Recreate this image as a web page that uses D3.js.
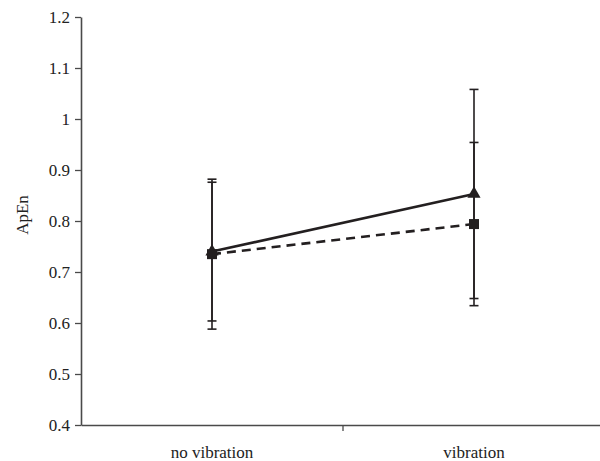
<!DOCTYPE html>
<html><head><meta charset="utf-8">
<script src="https://cdn.jsdelivr.net/npm/d3@7"></script>
<style>body{margin:0;background:#fff}svg{display:block}svg text{font-family:'Liberation Serif','Times New Roman',serif}</style>
</head><body>
<svg id="c" width="600" height="461"></svg>
<script>
const categories = ["no vibration", "vibration"];
const yTicks = [0.4, 0.5, 0.6, 0.7, 0.8, 0.9, 1, 1.1, 1.2];
// series: solid line with triangles
const triMean = [0.740, 0.853];
const triErr  = [0.136, 0.205];
// series: dashed line with squares
const sqMean = [0.735, 0.794];
const sqErr  = [0.147, 0.160];

(function () {
const svg = d3.select("#c");
const mL = 81, mR = 605, mT = 17, mB = 425;
const x = d3.scaleBand().domain(categories).range([mL, mR]);
const y = d3.scaleLinear().domain([0.4, 1.2]).range([mB, mT]);
const ink = "#231f20", axisCol = "#4a4a4a";
const font = "'Liberation Serif', 'Times New Roman', serif";

// y axis
const ya = svg.append("g").attr("transform", `translate(${mL},0)`)
  .call(d3.axisLeft(y).tickValues(yTicks).tickSize(6).tickSizeOuter(0).tickFormat(d => String(+d.toFixed(1))));
ya.attr("font-family", null);
ya.select(".domain").attr("stroke", axisCol).attr("stroke-width", 1.6);
ya.selectAll(".tick line").attr("stroke", axisCol).attr("stroke-width", 1.3);
ya.selectAll(".tick text").style("font-family", font).style("font-size", "17px").attr("fill", "#222").attr("x", -11);

// x axis
const xa = svg.append("g").attr("transform", `translate(0,${mB})`)
  .call(d3.axisBottom(x).tickSize(0).tickSizeOuter(0));
xa.attr("font-family", null);
xa.select(".domain").attr("stroke", axisCol).attr("stroke-width", 1.6);
xa.selectAll(".tick text").style("font-family", font).style("font-size", "17px").attr("fill", "#222").attr("dy", 0).attr("y", 33);
// category separator tick
xa.append("line").attr("x1", x(categories[1])).attr("x2", x(categories[1]))
  .attr("y1", 0).attr("y2", 6).attr("stroke", axisCol).attr("stroke-width", 1.3);

// y label
svg.append("text").attr("transform", `translate(28,215) rotate(-90)`)
  .attr("text-anchor", "middle").style("font-family", font).style("font-size", "17px").attr("fill", "#222").text("ApEn");

const cx = c => x(c) + x.bandwidth() / 2;

function errBars(mean, err) {
  const g = svg.append("g");
  categories.forEach((c, i) => {
    const X = cx(c), hi = y(mean[i] + err[i]), lo = y(mean[i] - err[i]);
    g.append("line").attr("x1", X).attr("x2", X).attr("y1", hi).attr("y2", lo).attr("stroke", ink).attr("stroke-width", 1.6);
    [hi, lo].forEach(v => g.append("line").attr("x1", X - 4.5).attr("x2", X + 4.5).attr("y1", v).attr("y2", v).attr("stroke", ink).attr("stroke-width", 1.6));
  });
}
errBars(triMean, triErr);
errBars(sqMean, sqErr);

const line = d3.line().x((d, i) => cx(categories[i])).y(d => y(d));
svg.append("path").datum(sqMean).attr("d", line).attr("fill", "none").attr("stroke", ink).attr("stroke-width", 2.6).attr("stroke-dasharray", "9,6");
svg.append("path").datum(triMean).attr("d", line).attr("fill", "none").attr("stroke", ink).attr("stroke-width", 2.6);

categories.forEach((c, i) => {
  svg.append("path").attr("d", d3.symbol(d3.symbolTriangle, 75)())
    .attr("transform", `translate(${cx(c)},${y(triMean[i])})`).attr("fill", ink);
});
categories.forEach((c, i) => {
  svg.append("rect").attr("x", cx(c) - 5).attr("y", y(sqMean[i]) - 5).attr("width", 10).attr("height", 10).attr("fill", ink);
});
})();
</script>
</body></html>
